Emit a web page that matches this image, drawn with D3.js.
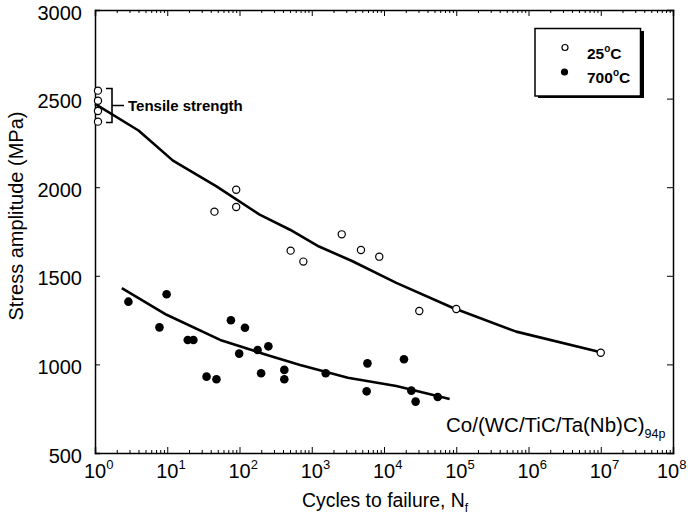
<!DOCTYPE html>
<html>
<head>
<meta charset="utf-8">
<script src="https://d3js.org/d3.v7.min.js"></script>
<style>
  body { margin: 0; background: #fff; }
  svg { font-family: "Liberation Sans", Arial, sans-serif; }
  .tick text { font-size: 20px; }
</style>
</head>
<body>
<svg width="688" height="521"></svg>
<script>
// 25 C test points [cycles, MPa]
let rtCycles = [1.1, 1.1, 1.1, 1.1, 45, 90, 90, 510, 765, 2600, 4800, 8600, 30800, 100000, 10000000]
let rtStress = [2545, 2488, 2430, 2370, 1862, 1986, 1888, 1642, 1580, 1734, 1646, 1608, 1301, 1313, 1066]

// 700 C test points
let htCycles = [2.9, 9.8, 7.8, 19.2, 23, 35, 48, 76, 119, 99, 178, 251, 199, 417, 417, 1560, 5900, 5750, 18900, 23900, 27400, 55400]
let htStress = [1354, 1396, 1209, 1138, 1138, 931, 916, 1249, 1207, 1061, 1081, 1102, 950, 969, 916, 950, 1006, 848, 1029, 852, 790, 816]

// fitted curves
let rtFitCycles = [1, 4, 12, 48, 190, 500, 1260, 3550, 14800, 89000, 676000, 10000000]
let rtFitStress = [2470, 2320, 2150, 2005, 1845, 1760, 1665, 1585, 1460, 1320, 1185, 1068]
let htFitCycles = [2.35, 9.8, 54, 240, 690, 3160, 14800, 81000]
let htFitStress = [1430, 1280, 1138, 1053, 997, 925, 878, 805]

let yTicks = [500, 1000, 1500, 2000, 2500, 3000]
let xTicks = [1, 10, 100, 1e3, 1e4, 1e5, 1e6, 1e7, 1e8]

let svg = d3.select('svg')
let pLeft = 95, pRight = 673, pTop = 10, pBottom = 453

let x = d3.scaleLog().domain([1, 1e8]).range([pLeft, pRight])
let y = d3.scaleLinear().domain([500, 3000]).range([pBottom, pTop])

// minor log ticks
let minor = []
for (let e = 0; e < 8; e++) for (let m = 2; m <= 9; m++) minor.push(m * Math.pow(10, e))

svg.append('g')
    .attr('transform', `translate(0,${pBottom})`)
    .call(d3.axisBottom(x).tickValues(xTicks).tickSize(-6).tickFormat(''))
svg.append('g')
    .attr('transform', `translate(0,${pBottom})`)
    .call(d3.axisBottom(x).tickValues(minor).tickSize(-3).tickFormat(''))
    .call(g => g.select('.domain').remove())
svg.append('g')
    .attr('transform', `translate(0,${pTop})`)
    .call(d3.axisTop(x).tickValues(xTicks).tickSize(-6).tickFormat(''))
svg.append('g')
    .attr('transform', `translate(0,${pTop})`)
    .call(d3.axisTop(x).tickValues(minor).tickSize(-3).tickFormat(''))
    .call(g => g.select('.domain').remove())
svg.append('g')
    .attr('transform', `translate(${pLeft},0)`)
    .call(d3.axisLeft(y).tickValues(yTicks).tickSize(-5).tickPadding(13).tickFormat(d3.format('d')))
    .call(g => g.selectAll('.tick text').attr('dy', '0.45em'))
svg.append('g')
    .attr('transform', `translate(${pRight},0)`)
    .call(d3.axisRight(y).tickValues(yTicks).tickSize(-6).tickFormat(''))
svg.selectAll('.domain').attr('stroke', '#000').attr('stroke-width', 1.5)

// x tick labels as 10 with superscript (last one pulled in to stay on the page)
let xl = svg.append('g').selectAll('text').data(xTicks).enter().append('text')
    .attr('x', (d, i) => Math.min(x(d) - 11, 657))
    .attr('y', 478)
    .attr('font-size', 20)
xl.append('tspan').text('10')
xl.append('tspan').attr('dy', -9).attr('font-size', 13).text((d, i) => i)

// axis titles
svg.append('text')
    .attr('transform', 'translate(23,216) rotate(-90)')
    .attr('text-anchor', 'middle')
    .attr('font-size', 20)
    .text('Stress amplitude (MPa)')
let xt = svg.append('text')
    .attr('x', 302).attr('y', 507)
    .attr('font-size', 19.4)
xt.append('tspan').text('Cycles to failure, N')
xt.append('tspan').attr('dy', 5).attr('font-size', 12).text('f')

// fitted lines
let line = d3.line().x(d => x(d[0])).y(d => y(d[1]))
svg.append('path')
    .datum(d3.zip(rtFitCycles, rtFitStress))
    .attr('d', line)
    .attr('fill', 'none').attr('stroke', '#000').attr('stroke-width', 2.6).attr('stroke-linejoin', 'round')
svg.append('path')
    .datum(d3.zip(htFitCycles, htFitStress))
    .attr('d', line)
    .attr('fill', 'none').attr('stroke', '#000').attr('stroke-width', 2.6).attr('stroke-linejoin', 'round')

// points
svg.append('g').selectAll('circle')
    .data(d3.zip(rtCycles, rtStress))
    .enter().append('circle')
    .attr('cx', d => x(d[0])).attr('cy', d => y(d[1]))
    .attr('r', 3.6)
    .attr('fill', '#fff').attr('stroke', '#000').attr('stroke-width', 1.2)
svg.append('g').selectAll('circle')
    .data(d3.zip(htCycles, htStress))
    .enter().append('circle')
    .attr('cx', d => x(d[0])).attr('cy', d => y(d[1]))
    .attr('r', 4.3)
    .attr('fill', '#000')

// tensile strength bracket
let bTop = 88.5, bBot = 122.5, bx = 112
svg.append('path')
    .attr('d', `M${bx - 6},${bTop}H${bx}V${bBot}H${bx - 6}M${bx},${(bTop + bBot) / 2}H${bx + 12}`)
    .attr('fill', 'none').attr('stroke', '#000').attr('stroke-width', 1.6)
svg.append('text')
    .attr('x', 128).attr('y', 110.5)
    .attr('font-size', 15).attr('font-weight', 'bold')
    .text('Tensile strength')

// legend
let lg = svg.append('g')
lg.append('rect').attr('x', 538).attr('y', 31).attr('width', 106).attr('height', 67).attr('fill', '#000')
lg.append('rect').attr('x', 535).attr('y', 28.5).attr('width', 105.5).attr('height', 67.5)
    .attr('fill', '#fff').attr('stroke', '#000').attr('stroke-width', 1.5)
lg.append('circle').attr('cx', 565).attr('cy', 47.5).attr('r', 3)
    .attr('fill', '#fff').attr('stroke', '#000').attr('stroke-width', 1.2)
lg.append('circle').attr('cx', 564.5).attr('cy', 72).attr('r', 3.6).attr('fill', '#000')
let legendNames = [['25', 59], ['700', 83]]
legendNames.forEach(function(n) {
    let t = lg.append('text').attr('x', 587).attr('y', n[1])
        .attr('font-size', 15.5).attr('font-weight', 'bold')
    t.append('tspan').text(n[0])
    t.append('tspan').attr('dy', -7).attr('font-size', 10).text('o')
    t.append('tspan').attr('dy', 7).text('C')
})

// material label
let ml = svg.append('text').attr('x', 446).attr('y', 432).attr('font-size', 20.5)
ml.append('tspan').text('Co/(WC/TiC/Ta(Nb)C)')
ml.append('tspan').attr('dy', 6).attr('font-size', 12.5).text('94p')
</script>
</body>
</html>
